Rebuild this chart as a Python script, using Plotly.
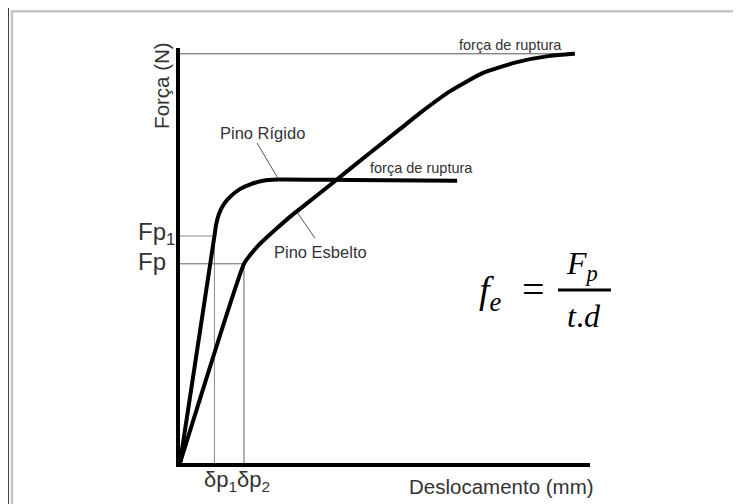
import plotly.graph_objects as go

# ---- data (displacement in arbitrary mm units, force in arbitrary N units) ----
rigid_disp = [0, 0.84, 0.88, 0.95, 1.07, 1.24, 1.46, 1.73, 2.02, 2.37, 4.15, 6.76]
rigid_force = [0, 5.47, 5.74, 6.00, 6.24, 6.43, 6.60, 6.72, 6.80, 6.83, 6.82, 6.80]

slender_disp = [0, 1.56, 1.71, 1.88, 2.10, 2.37, 2.68, 3.05, 3.66, 4.63, 5.37,
                5.85, 6.59, 7.39, 8.22, 9.02, 9.63]
slender_force = [0, 4.80, 5.01, 5.21, 5.42, 5.66, 5.93, 6.22, 6.70, 7.47, 8.05,
                 8.43, 8.96, 9.40, 9.66, 9.81, 9.86]

fp1_force = 5.47      # Fp1
fp_force = 4.80       # Fp
dp1_disp = 0.84       # δp1
dp2_disp = 1.56       # δp2
rupture_slender = 9.86
rupture_slender_disp = 9.63

x_range = [0, 10]
y_range = [0, 10]

FONT = "Liberation Sans"
TXT = "#333333"

fig = go.Figure()

# guide lines
fig.add_trace(go.Scatter(x=[0, rupture_slender_disp], y=[rupture_slender, rupture_slender],
                         mode="lines", line=dict(color="#555555", width=1), hoverinfo="skip"))
fig.add_trace(go.Scatter(x=[0, dp1_disp, dp1_disp], y=[fp1_force, fp1_force, 0],
                         mode="lines", line=dict(color="#8a8a8a", width=1), hoverinfo="skip"))
fig.add_trace(go.Scatter(x=[0, dp2_disp, dp2_disp], y=[fp_force, fp_force, 0],
                         mode="lines", line=dict(color="#666666", width=1), hoverinfo="skip"))

# leader lines
fig.add_trace(go.Scatter(x=[1.88, 2.37], y=[7.71, 6.89], mode="lines",
                         line=dict(color="#555555", width=1), hoverinfo="skip"))
fig.add_trace(go.Scatter(x=[2.85, 3.29], y=[6.05, 5.42], mode="lines",
                         line=dict(color="#555555", width=1), hoverinfo="skip"))

# curves
fig.add_trace(go.Scatter(x=rigid_disp, y=rigid_force, mode="lines",
                         line=dict(color="black", width=4, shape="spline", smoothing=0.5),
                         name="Pino Rígido"))
fig.add_trace(go.Scatter(x=slender_disp, y=slender_force, mode="lines",
                         line=dict(color="black", width=4, shape="spline", smoothing=0.5),
                         name="Pino Esbelto"))

ann = []
def A(text, x, y, size=14.5, xref="x", yref="y", xanchor="center", yanchor="middle",
      angle=0, family=FONT, color=TXT):
    ann.append(dict(text=text, x=x, y=y, xref=xref, yref=yref, showarrow=False,
                    xanchor=xanchor, yanchor=yanchor, textangle=angle,
                    font=dict(family=family, size=size, color=color)))

A("força de ruptura", 0.805, 1.007, xref="paper", yref="paper")
A("força de ruptura", 5.88, 7.11)
A("Pino Rígido", 2.0, 7.95, size=16.5)
A("Pino Esbelto", 3.42, 5.08, size=16.5)
A("Força (N)", -0.044, 0.911, size=20.5, xref="paper", yref="paper", angle=-90)
A("Deslocamento (mm)", 0.783, -0.056, size=20.5, xref="paper", yref="paper")
A("Fp<sub>1</sub>", -0.107, 5.52, size=24, xref="paper", xanchor="left")
A("Fp", -0.107, 4.85, size=24, xref="paper", xanchor="left")
A("δp<sub>1</sub>δp<sub>2</sub>", 0.054, -0.043, size=22, xref="paper", yref="paper",
  xanchor="left")

# formula f_e = F_p / (t.d)
SERIF = "Liberation Serif"
A("<i>f</i><sub><i>e</i></sub>", 0.758, 0.41, size=38, xref="paper", yref="paper",
  family=SERIF, color="black")
A("=", 0.863, 0.418, size=40, xref="paper", yref="paper", family=SERIF, color="black")
A("<i>F</i><sub><i>p</i></sub>", 0.98, 0.475, size=32, xref="paper", yref="paper",
  family=SERIF, color="black")
A("<i>t</i>.<i>d</i>", 0.985, 0.355, size=32, xref="paper", yref="paper",
  family=SERIF, color="black")

shapes = [
    # fraction bar
    dict(type="line", xref="paper", yref="paper", x0=0.922, x1=1.051, y0=0.417, y1=0.417,
         line=dict(color="black", width=3)),
    # page frame
    dict(type="line", xref="paper", yref="paper", x0=-0.4195, x1=-0.4195, y0=1.097, y1=-0.13,
         line=dict(color="black", width=1.5)),
    dict(type="line", xref="paper", yref="paper", x0=-0.4098, x1=-0.4098, y0=1.090, y1=-0.13,
         line=dict(color="#c4c4c4", width=2.5)),
    dict(type="line", xref="paper", yref="paper", x0=-0.412, x1=1.40, y0=1.0885, y1=1.0885,
         line=dict(color="#c4c4c4", width=2.5)),
]

# the page body adds an 8px offset, so the plot area is placed 8px up/left in the figure
fig.update_layout(
    width=741, height=504,
    margin=dict(l=172, r=159, t=40, b=49),
    paper_bgcolor="white", plot_bgcolor="white",
    showlegend=False,
    annotations=ann, shapes=shapes,
    xaxis=dict(range=x_range, showline=True, linecolor="black", linewidth=4,
               showgrid=False, zeroline=False, showticklabels=False, ticks=""),
    yaxis=dict(range=y_range, showline=True, linecolor="black", linewidth=4,
               showgrid=False, zeroline=False, showticklabels=False, ticks=""),
)

fig.write_html("out.html")
